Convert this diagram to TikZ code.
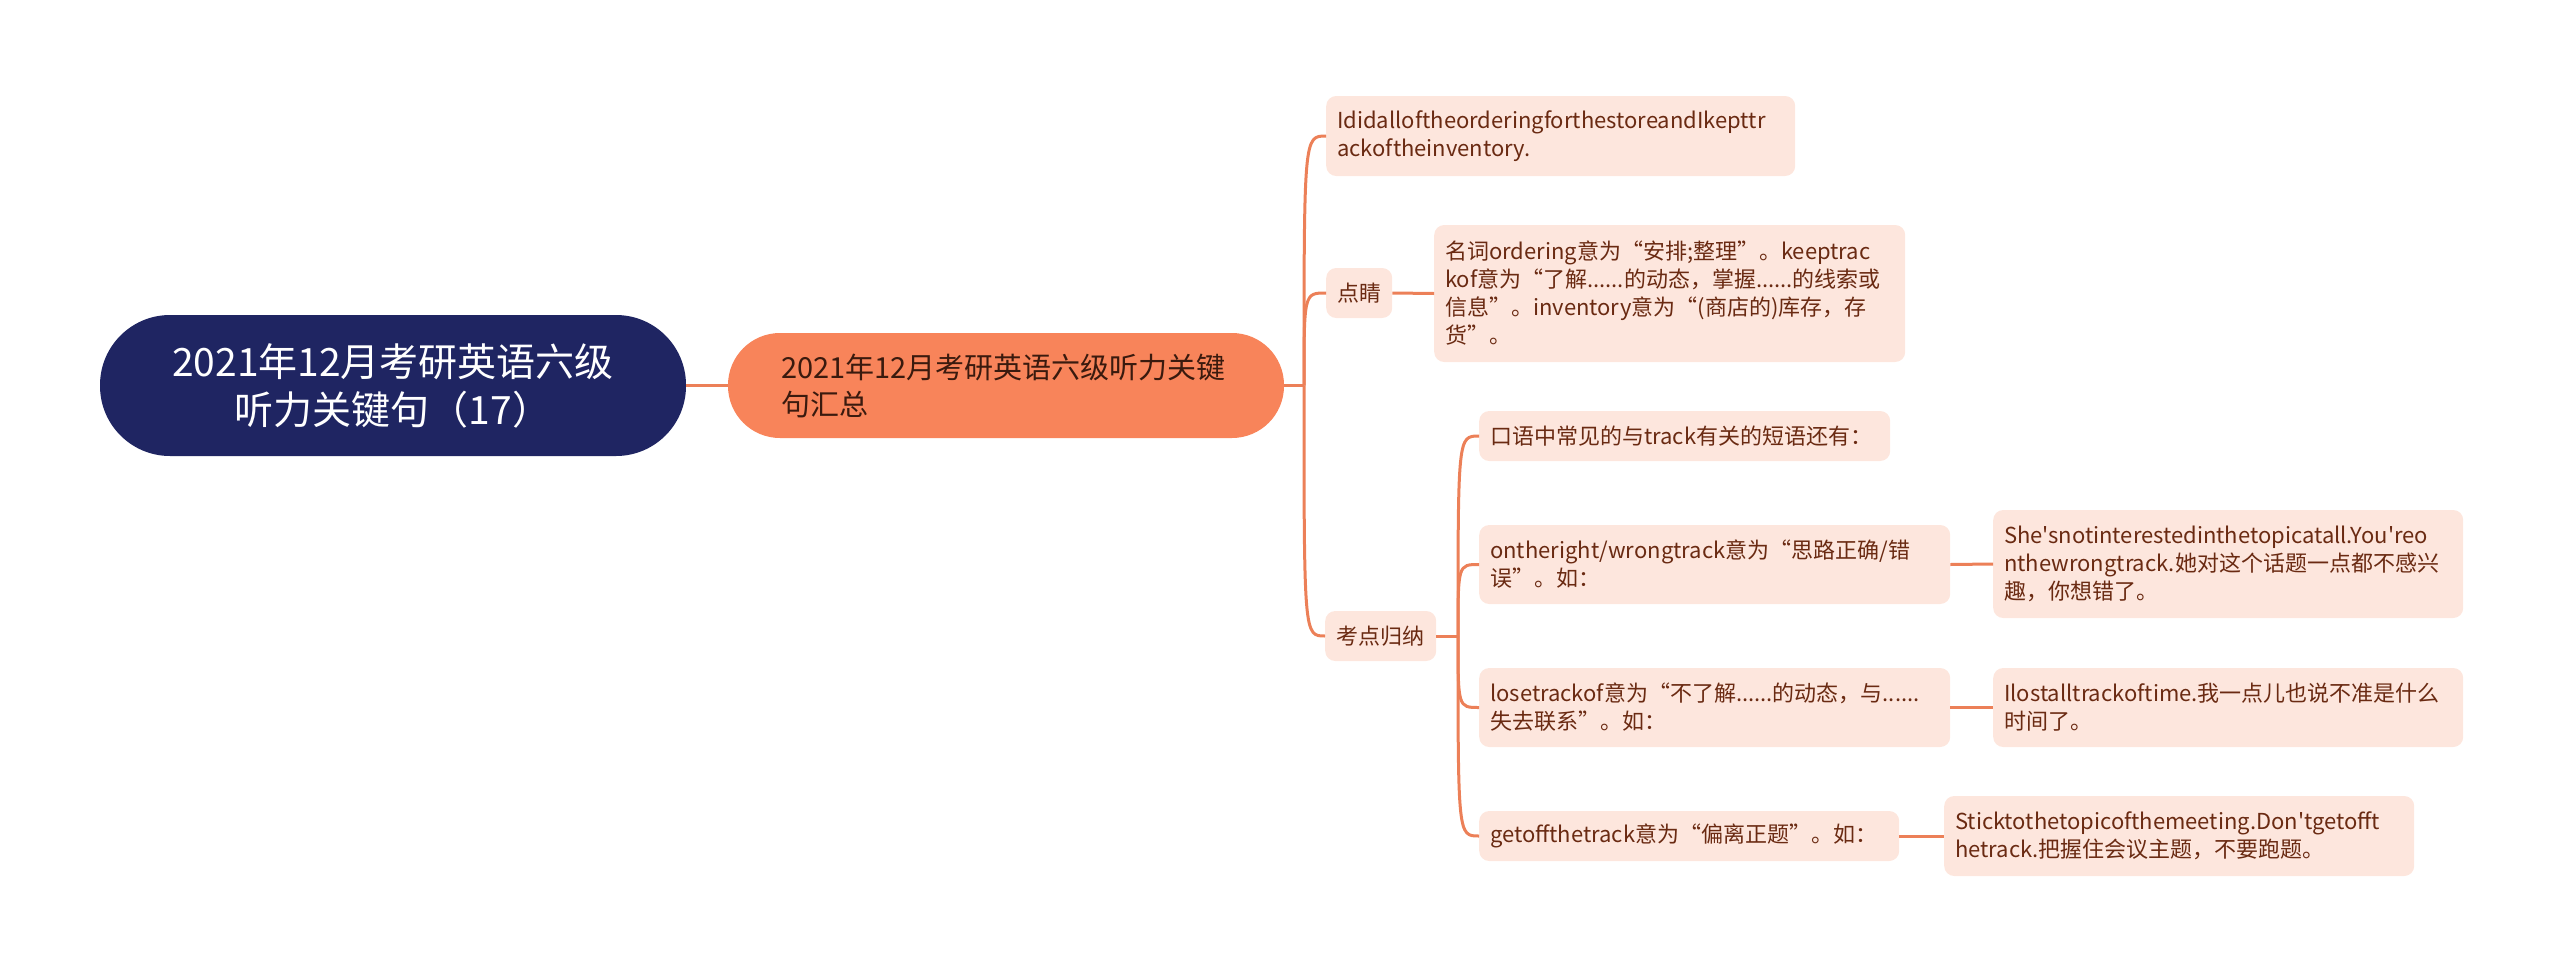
\documentclass[tikz,border=0pt]{standalone}
\usepackage{fontspec}
\setmainfont{Noto Sans CJK SC}[Ligatures=TeXOff]
\usepackage{tikz}

\definecolor{rootblue}{RGB}{31,37,98}
\definecolor{mainorange}{RGB}{248,132,90}
\definecolor{leafpink}{RGB}{253,230,221}
\definecolor{linkorange}{RGB}{236,128,88}
\definecolor{leaftext}{RGB}{106,42,18}
\definecolor{maintext}{RGB}{58,26,14}

\begin{document}
\begin{tikzpicture}
  [x=1pt,y=-1pt,
   rootbox/.style={fill=rootblue,text=white,rounded corners=70pt,align=center,
     minimum width=586pt,minimum height=141pt,font=\fontsize{39}{48}\selectfont},
   mainbox/.style={fill=mainorange,text=maintext,rounded corners=52pt,align=left,
     minimum width=556pt,minimum height=105pt,text width=450pt,inner xsep=53pt,
     font=\fontsize{29}{37}\selectfont},
   leaf/.style={fill=leafpink,text=leaftext,rounded corners=10pt,anchor=west,
     inner xsep=11pt,inner ysep=0pt,align=left,font=\fontsize{22}{28}\selectfont},
   link/.style={draw=linkorange,line width=3pt}]

  \useasboundingbox (0,0) rectangle (2560,972);

  \node[rootbox] (root) at (393,385.5) {2021年12月考研英语六级\\听力关键句（17）};
  \node[mainbox] (main) at (1006,385.5) {2021年12月考研英语六级听力关键\\句汇总};

  % first level
  \node[leaf, minimum width=469pt, minimum height=80pt, text width=447pt] (c1) at (1326,136)
    {IdidalloftheorderingforthestoreandIkepttr\\ackoftheinventory.};
  \node[leaf, minimum width=66pt, minimum height=50pt] (dj) at (1326,293) {点睛};
  \node[leaf, minimum width=111pt, minimum height=50pt] (kd) at (1325,636) {考点归纳};

  % under dianjing
  \node[leaf, minimum width=471pt, minimum height=137pt, text width=449pt] (c2) at (1434,293.5)
    {名词ordering意为“安排;整理”。keeptrac\\kof意为“了解......的动态，掌握......的线索或\\信息”。inventory意为“(商店的)库存，存\\货”。};

  % under kaodian
  \node[leaf, minimum width=411pt, minimum height=50pt, text width=389pt] (k1) at (1479,436)
    {口语中常见的与track有关的短语还有：};
  \node[leaf, minimum width=471pt, minimum height=79pt, text width=449pt] (k2) at (1479,564.5)
    {ontheright/wrongtrack意为“思路正确/错\\误”。如：};
  \node[leaf, minimum width=471pt, minimum height=79pt, text width=449pt] (k3) at (1479,707.5)
    {losetrackof意为“不了解......的动态，与......\\失去联系”。如：};
  \node[leaf, minimum width=420pt, minimum height=50pt, text width=398pt] (k4) at (1479,836)
    {getoffthetrack意为“偏离正题”。如：};

  \node[leaf, minimum width=470pt, minimum height=108pt, text width=448pt] (k2a) at (1993,564)
    {She'snotinterestedinthetopicatall.You'reo\\nthewrongtrack.她对这个话题一点都不感兴\\趣，你想错了。};
  \node[leaf, minimum width=470pt, minimum height=79pt, text width=448pt] (k3a) at (1993,707.5)
    {Ilostalltrackoftime.我一点儿也说不准是什么\\时间了。};
  \node[leaf, minimum width=470pt, minimum height=80pt, text width=448pt] (k4a) at (1944,836)
    {Sticktothetopicofthemeeting.Don'tgetofft\\hetrack.把握住会议主题，不要跑题。};

  \coordinate (tr1) at (1304,385.5);
  \coordinate (tr2) at (1458,636);

  \draw[link] (root.east) -- (main.west);
  \draw[link] (main.east) -- (tr1);
  \foreach \n in {c1,dj,kd}
    \draw[link] (tr1) .. controls (tr1 |- \n.west) .. (\n.west);
  \draw[link] (kd.east) -- (tr2);
  \foreach \n in {k1,k2,k3,k4}
    \draw[link] (tr2) .. controls (tr2 |- \n.west) .. (\n.west);

  \draw[link] (dj.east) -- (c2.west);
  \draw[link] (k2.east) -- (k2a.west);
  \draw[link] (k3.east) -- (k3a.west);
  \draw[link] (k4.east) -- (k4a.west);
\end{tikzpicture}
\end{document}
